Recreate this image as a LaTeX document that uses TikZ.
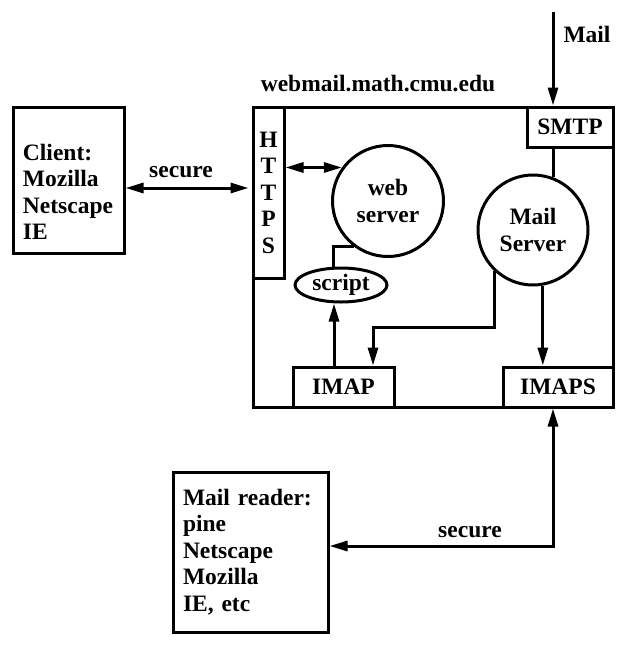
\documentclass[tikz,border=0pt]{standalone}
\usepackage{fontspec}
\setmainfont{Liberation Serif}
\usetikzlibrary{arrows.meta,shapes.geometric}
\begin{document}
\begin{tikzpicture}[x=1pt,y=-1pt,line width=3pt,font=\fontsize{23.5}{26.5}\selectfont\bfseries,>={Triangle[length=18pt,width=10pt]}]
	\tikzstyle{r} = [draw, shape=rectangle, inner sep=0pt]
	\tikzstyle{c} = [draw, shape=circle, inner sep=0pt, align=center]
	\tikzstyle{e} = [draw, shape=ellipse, inner sep=0pt]
	\tikzstyle{t} = [inner sep=0pt, align=left]
	\useasboundingbox (0,0) rectangle (626,646);
	\node[r, minimum width=360pt, minimum height=300pt] (host) at (433,257) {};
	\node[anchor=base, inner sep=0pt] (hostname) at (378,91) {webmail.math.cmu.edu};
	\node[r, minimum width=31pt, minimum height=171pt, align=center] (https) at (268.5,192.5) {H\\T\\T\\P\\S};
	\node[r, minimum width=86pt, minimum height=40pt] (smtp) at (570,127) {SMTP};
	\node[r, minimum width=101pt, minimum height=40pt] (imap) at (343.5,387) {IMAP};
	\node[r, minimum width=110pt, minimum height=40pt] (imaps) at (558,387) {IMAPS};
	\node[c, minimum size=111pt] (web) at (388,201) {web\\server};
	\node[c, minimum size=110pt] (mailsrv) at (533,230) {Mail\\Server};
	\node[e, minimum width=92pt, minimum height=34pt] (script) at (341,285) {script};
	\node[r, minimum width=111pt, minimum height=146pt] (client) at (68.5,180) {};
	\node[t, anchor=west] (clienttxt) at ([xshift=10pt,yshift=-12pt]client.west) {Client:\\Mozilla\\Netscape\\IE};
	\node[r, minimum width=155pt, minimum height=160pt, text width=135pt, inner xsep=10pt, align=left] (reader) at (250.5,552) {Mail reader:\\pine\\Netscape\\Mozilla\\IE, etc};
	\coordinate (cs) at ([yshift=-8pt]client.east);
	\draw[<->, shorten >=3pt] (cs) -- (cs -| https.west);
	\node[anchor=base, inner sep=0pt] (secweb) at (181,177) {secure};
	\draw[<->] (https.east |- web.144) -- (web.144);
	\draw (web.233) -| ([xshift=-8pt]script.north);
	\coordinate (sb) at ([xshift=-7pt]script.south);
	\draw[->] (imap.north -| sb) -- (sb);
	\coordinate (mailin) at (553,12);
	\draw[->] (mailin) -- (mailin |- smtp.north);
	\node[anchor=base west, inner sep=0pt] (mail) at (562,42) {Mail};
	\draw (mailsrv.69 |- smtp.south) -- (mailsrv.69);
	\draw[->] (mailsrv.227) -- ++(0,56) -| ([xshift=29.5pt]imap.north);
	\draw[->] (mailsrv.280) -- (mailsrv.280 |- imaps.north);
	\draw[<->] ([xshift=-5pt]imaps.south) |- ([yshift=6pt]reader.east);
	\node[anchor=base, inner sep=0pt] (secmail) at (470,537) {secure};
\end{tikzpicture}
\end{document}
